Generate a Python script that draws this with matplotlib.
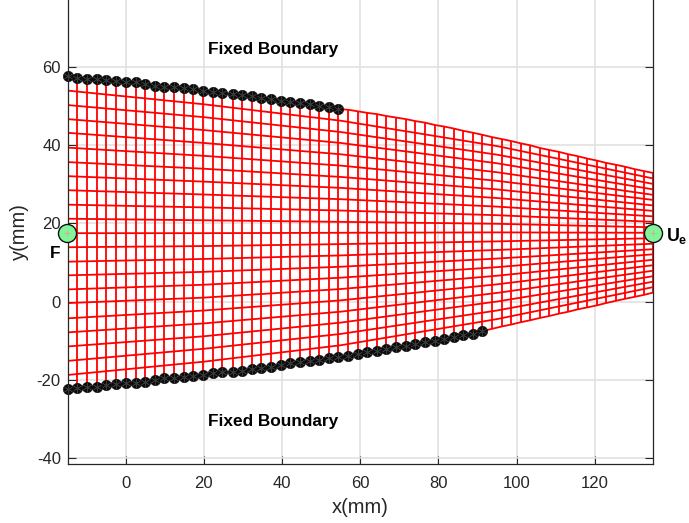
import matplotlib

matplotlib.use("Agg")
import matplotlib.pyplot as plt

plt.rcParams["font.family"] = ["Liberation Sans", "DejaVu Sans"]
plt.rcParams["axes.unicode_minus"] = False
plt.rcParams["mathtext.fontset"] = "custom"
plt.rcParams["mathtext.bf"] = "Liberation Sans:bold"

# column positions of the mesh (mm)
column_x = [
    -14.85, -12.5, -10.0, -7.4, -5.0, -2.6, 0.1, 2.5, 4.9, 7.4, 9.9, 12.4, 14.8, 17.3, 19.9, 22.3,
    24.7, 27.4, 29.8, 32.2, 34.7, 37.1, 39.7, 42.1, 44.6, 47.1, 49.5, 51.9, 54.4, 56.9, 59.4, 61.8,
    64.2, 66.7, 69.2, 71.7, 74.1, 76.6, 79.1, 81.5, 83.9, 86.4, 88.9, 91.2, 93.7, 96.2, 98.6, 101.1,
    103.5, 106.0, 108.4, 110.9, 113.3, 115.7, 118.1, 120.5, 122.9, 125.5, 127.8, 130.2, 132.6, 135.0,
]
top_y = [
    57.8, 57.3, 57.0, 57.0, 56.7, 56.4, 56.1, 56.1, 55.7, 55.3, 55.0, 55.0, 54.7, 54.4, 54.0, 53.6,
    53.3, 53.2, 52.9, 52.7, 52.2, 51.8, 51.4, 51.1, 50.8, 50.5, 50.1, 49.8, 49.3, 49.1, 48.7, 48.3,
    48.0, 47.5, 47.1, 46.7, 46.2, 45.8, 45.2, 44.8, 44.3, 43.7, 43.2, 42.7, 42.1, 41.6, 41.1, 40.5,
    40.0, 39.3, 38.8, 38.3, 37.7, 37.2, 36.6, 36.1, 35.5, 35.0, 34.5, 33.9, 33.4, 32.9,
]
bottom_y = [
    -22.5, -22.2, -21.9, -21.9, -21.5, -21.2, -20.8, -20.8, -20.5, -20.1, -19.7, -19.7, -19.4, -19.1,
    -18.7, -18.4, -18.1, -18.0, -17.7, -17.3, -16.9, -16.7, -16.2, -15.8, -15.5, -15.3, -15.0, -14.5,
    -14.2, -13.9, -13.5, -13.0, -12.7, -12.2, -11.7, -11.4, -11.0, -10.3, -10.0, -9.7, -9.1, -8.6,
    -8.3, -7.6, -7.0, -6.4, -5.9, -5.3, -4.8, -4.2, -3.7, -3.1, -2.6, -2.0, -1.5, -1.0, -0.4, 0.2,
    0.7, 1.2, 1.7, 2.3,
]
top_fixed = 29
bottom_fixed = 44

# inner mesh rows read at a few stations along x
stations = [-14.85, 20, 55, 95, 135]
rows_a = [54.0, 50.3, 46.7, 43.2, 39.4, 35.7, 32.1, 28.5, 24.8, 21.2, 17.5, 13.9, 10.2, 6.7, 3.1, -0.4, -4.3, -7.9, -11.5, -15.2, -18.8]
rows_b = [50.5, 47.2, 43.9, 40.6, 37.3, 34.0, 30.7, 27.4, 24.1, 20.8, 17.5, 14.2, 10.9, 7.6, 4.3, 1.0, -2.3, -5.6, -8.9, -12.1, -15.4]
rows_c = [46.3, 43.4, 40.6, 37.7, 34.8, 31.9, 29.1, 26.2, 23.3, 20.4, 17.6, 14.7, 11.8, 8.9, 6.1, 3.2, 0.3, -2.6, -5.4, -8.3, -11.2]
rows_d = [39.8, 37.6, 35.4, 33.1, 30.9, 28.7, 26.5, 24.3, 22.1, 19.9, 17.7, 15.4, 13.2, 11.0, 8.8, 6.6, 4.4, 2.2, 0.0, -2.3, -4.5]
rows_e = [31.5, 30.1, 28.7, 27.3, 26.0, 24.6, 23.2, 21.8, 20.4, 19.0, 17.6, 16.2, 14.8, 13.4, 12.1, 10.7, 9.3, 7.9, 6.5, 5.1, 3.7]

force_x = -15
outlet_x = 135
load_y = 17.6

x_ticks = [0, 20, 40, 60, 80, 100, 120]
y_ticks = [-40, -20, 0, 20, 40, 60]

W, H = 689, 523
fig = plt.figure(figsize=(W / 100, H / 100), dpi=100)
ax = fig.add_axes([67.7 / W, (H - 464) / H, (653.3 - 67.7) / W, 464 / H])
ax.set_xlim(-14.85, 135)
ax.set_ylim(-41.6, 77.2)

dark = "#262626"
ax.grid(True, color="#e2e2e2", lw=1.2, zorder=0)
ax.set_axisbelow(True)
ax.set_xticks(x_ticks)
ax.set_yticks(y_ticks)
ax.tick_params(direction="in", length=5.5, width=0.8, color=dark, labelcolor=dark, labelsize=12, right=True)
ax.tick_params(axis="x", pad=8.5)
ax.tick_params(axis="y", pad=5)
ax.spines["top"].set_visible(False)
for s in ["left", "right", "bottom"]:
    ax.spines[s].set_color(dark)
    ax.spines[s].set_linewidth(0.9)

red = "#ff0000"
mesh_lw = 1.3
for i in range(len(rows_a)):
    ax.plot(stations, [rows_a[i], rows_b[i], rows_c[i], rows_d[i], rows_e[i]], color=red, lw=mesh_lw, zorder=2)
ax.plot(column_x, top_y, color=red, lw=mesh_lw, zorder=2)
ax.plot(column_x, bottom_y, color=red, lw=mesh_lw, zorder=2)
ax.vlines(column_x, bottom_y, top_y, color=red, lw=mesh_lw, zorder=2)

# fixed nodes
for xs, ys in [(column_x[:top_fixed], top_y[:top_fixed]), (column_x[:bottom_fixed], bottom_y[:bottom_fixed])]:
    ax.plot(xs, ys, ls="none", marker="o", ms=7.5, mfc="#0c0c0c", mec="#0c0c0c", mew=0.4, clip_on=False, zorder=4)
    ax.plot(xs, ys, ls="none", marker=(6, 2, 0), ms=6.5, mec="#3a3a3a", mew=0.4, clip_on=False, zorder=5)

# load and output nodes
for px in [force_x, outlet_x]:
    ax.plot([px], [load_y], ls="none", marker="o", ms=13, mfc="#82f59a", mec="#111111", mew=1.0, clip_on=False, zorder=6)
    ax.plot([px], [load_y], ls="none", marker="+", ms=4, mec="#e8a090", mew=0.6, clip_on=False, zorder=7)

ax.set_xlabel("x(mm)", fontsize=14.5, color=dark)
ax.set_ylabel("y(mm)", fontsize=14.5, color=dark)
ax.xaxis.set_label_coords(0.5, -0.073)
ax.yaxis.set_label_coords(-0.066, 0.5)

txt = dict(color="black", fontweight="bold", fontsize=12.4, ha="center", va="center")
ax.text(37.6, 64.6, "Fixed Boundary", **txt)
ax.text(37.6, -30.6, "Fixed Boundary", **txt)
ax.text(-18, 12.4, "F", clip_on=False, **txt)
ax.text(141.1, 16.8, r"$\mathbf{U_e}$", clip_on=False, color="black", fontsize=12.8, ha="center", va="center")

fig.savefig("out.png", dpi=100)
